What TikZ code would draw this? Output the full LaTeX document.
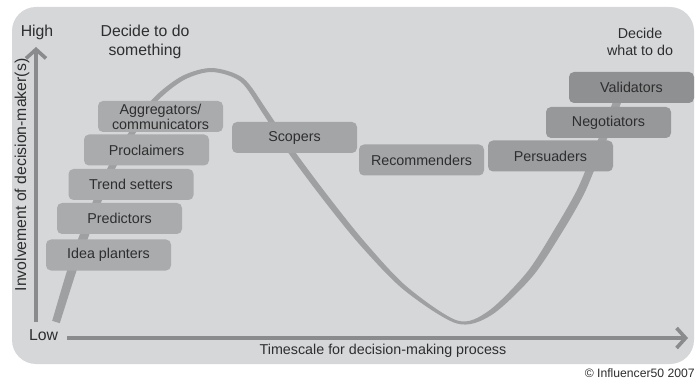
\documentclass[tikz,border=0pt]{standalone}
\usepackage{fontspec}
\setmainfont{Liberation Sans}
\usetikzlibrary{arrows.meta}
\definecolor{panel}{HTML}{D6D7D9}
\definecolor{boxL}{HTML}{AAABAD}
\definecolor{boxM}{HTML}{A4A5A7}
\definecolor{boxR}{HTML}{97989A}
\definecolor{ribbon}{HTML}{9EA0A2}
\definecolor{axisc}{HTML}{8A8B8D}
\definecolor{ink}{HTML}{2E2E2E}
\begin{document}
\begin{tikzpicture}[x=1pt,y=-1pt,
  stage/.style={rounded corners=5pt, minimum width=125pt, minimum height=31pt,
    inner sep=0pt, text=ink, font=\fontsize{14.3}{15}\selectfont, align=center},
  tagtext/.style={text=ink, font=\fontsize{14.3}{17}\selectfont, align=center, inner sep=0pt},
  bigtext/.style={tagtext, font=\fontsize{15.8}{18.5}\selectfont},
  axisline/.style={draw=axisc, line width=3.6pt, -{Straight Barb[length=9pt,width=20pt]}}
]
\useasboundingbox (0,0) rectangle (696,382);

% background panel
\fill[panel, rounded corners=24pt] (12,7) rectangle (694,364);

% axes
\coordinate (yorig) at (36,322);
\coordinate (ytop) at (36,47);
\coordinate (xorig) at (67,338);
\coordinate (xend) at (688,338);
\draw[axisline] (yorig) -- (ytop);
\draw[axisline] (xorig) -- (xend);

% involvement ribbon (rise, peak, trough, rise)
\fill[ribbon]
  plot[smooth] coordinates {(59.8,323.2) (76.3,271.4) (88.2,237.55) (100.7,203.5)
    (115.1,168.6) (134.5,134.6) (156.8,101.7) (184,79.95) (211.93,72) (240.64,81.72)
    (262.85,113.47) (287.55,151.73) (322.63,198.83) (359.9,244.85) (403.6,289.7)
    (456.6,323.45) (491.4,315.1) (532.7,276.2) (563.4,230.1) (583.6,194.8)
    (595.7,166.5) (606.7,139.5) (619.7,106.45) (625.7,89.45)}
  -- plot[smooth] coordinates {(618.3,86.55) (612.3,103.55) (599.3,136.5) (588.3,163.5)
    (576.4,191.2) (556.6,225.9) (527.3,271.8) (488.6,310.9) (457.4,320.55)
    (406.4,286.3) (364.1,241.15) (327.37,195.17) (292.45,148.27) (267.15,110.53)
    (243.36,78.28) (212.07,68) (182,76.05) (153.2,98.3) (129.5,131.4) (108.9,165.4)
    (93.3,200.5) (79.8,234.45) (67.7,268.6) (52.2,320.8)}
  -- cycle;

% stages
\node[stage, fill=boxL] (agg)   at (160.5,116.5) {Aggregators/\\communicators};
\node[stage, fill=boxL] (procl) at (146.5,150) {Proclaimers};
\node[stage, fill=boxL] (trend) at (131,184.5) {Trend setters};
\node[stage, fill=boxL] (pred)  at (119.5,218.5) {Predictors};
\node[stage, fill=boxL] (idea)  at (108.5,255) {Idea planters};
\node[stage, fill=boxM] (scop)  at (294.5,137.5) {Scopers};
\node[stage, fill=boxM] (recom) at (421.5,160) {Recommenders};
\node[stage, fill=boxR!95!white] (pers)  at (550.5,156) {Persuaders};
\node[stage, fill=boxR] (nego)  at (608.5,122.5) {Negotiators};
\node[stage, fill=boxR!95!black] (vali)  at (631.5,87.5) {Validators};

% axis and phase labels
\node[bigtext] (high) at (37,32) {High};
\node[bigtext] (low) at (43.5,335) {Low};
\node[bigtext] (dodo) at (145,42) {Decide to do\\something};
\node[tagtext] (what) at (640,42) {Decide\\what to do};
\node[bigtext, rotate=90] (ylab) at (22,175) {Involvement of decision-maker(s)};
\node[tagtext] (xlab) at (383,351) {Timescale for decision-making process};
\node[tagtext, font=\fontsize{12.2}{14}\selectfont, anchor=east] (copy) at (695,373) {© Influencer50 2007};
\end{tikzpicture}
\end{document}
